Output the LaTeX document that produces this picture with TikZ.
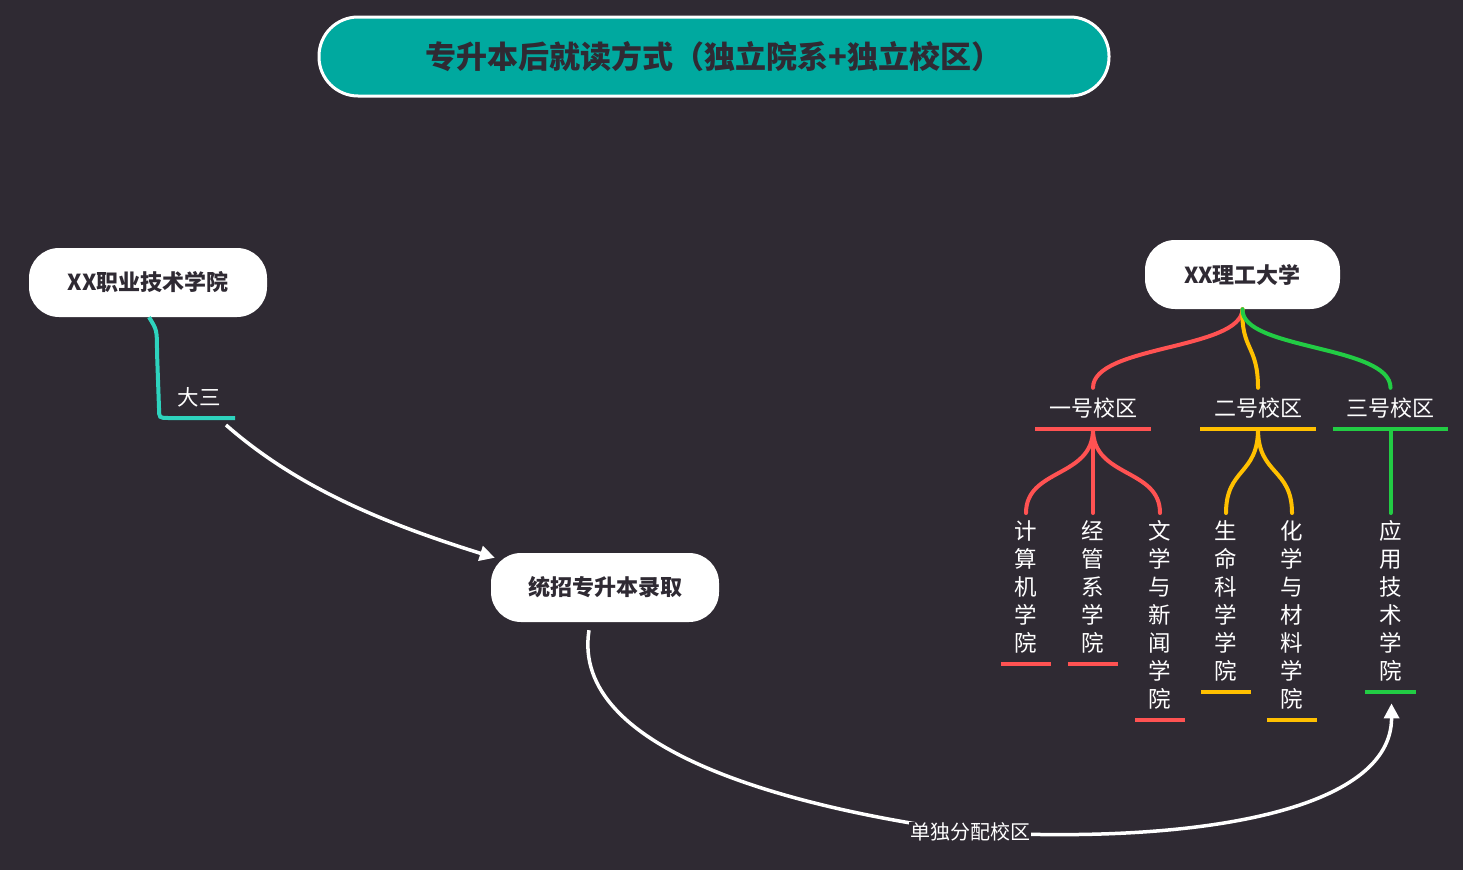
\documentclass[tikz,border=0pt]{standalone}
\usepackage{fontspec}
\newfontfamily\cjk{Noto Sans CJK SC}
\usetikzlibrary{arrows.meta,calc}
\definecolor{bg}{HTML}{2F2A33}
\definecolor{teal1}{HTML}{00A99F}
\definecolor{teal2}{HTML}{2ED3BE}
\definecolor{rd}{HTML}{FF5252}
\definecolor{yl}{HTML}{FFC000}
\definecolor{gn}{HTML}{22CC44}
\definecolor{ink}{HTML}{2F2A33}
\begin{document}
\begin{tikzpicture}[x=1pt,y=-1pt,
  box/.style={fill=white, rounded corners=30pt, inner sep=0pt, minimum height=69pt,
    font=\cjk\bfseries\fontsize{22}{26}\selectfont, text=ink},
  camp/.style={inner sep=0pt, minimum width=115pt, minimum height=41pt, text=white,
    font=\cjk\fontsize{22}{26}\selectfont},
  col/.style={inner sep=0pt, anchor=north, minimum width=50pt, text=white, align=center,
    font=\cjk\fontsize{22.5}{28}\selectfont},
  br/.style={line width=4pt, line cap=round},
  ul/.style={line width=4pt},
  wa/.style={white, line width=3.5pt, -{Triangle[length=15pt,width=15pt]}},
]
\useasboundingbox (0,0) rectangle (1463,870);
\fill[bg] (0,0) rectangle (1463,870);

% title
\node[fill=teal1, draw=white, line width=3pt, rounded corners=39pt, inner sep=0pt,
  minimum width=790pt, minimum height=79pt, text=ink,
  font=\cjk\bfseries\fontsize{31}{35}\selectfont] (title) at (714,56.5)
  {专升本后就读方式（独立院系+独立校区）};

% main nodes
\node[box, minimum width=238pt] (xx) at (148,282.5) {XX职业技术学院};
\node[box, minimum width=195pt] (ut) at (1242.5,274.5) {XX理工大学};
\node[box, minimum width=228pt] (tong) at (605,587.5) {统招专升本录取};

% teal branch and label
\coordinate (dasan) at (235,418);
\draw[teal2, line width=4pt] ($(xx.south)+(1,0)$) .. controls (157,330) .. (157,352)
  -- (159,408) .. controls (159,418) .. (169,418) -- (dasan);
\node[text=white, font=\cjk\fontsize{21.5}{24}\selectfont, inner sep=0pt] (dslab) at (199,397) {大三};

% arrow 1
\draw[wa] ($(dasan)+(-9,7)$) .. controls (300,490) and (390,525) .. ($(tong.north west)+(4,5)$);

% campuses
\node[camp] (c1) at (1093,408.5) {一号校区};
\node[camp] (c2) at (1258,408.5) {二号校区};
\node[camp] (c3) at (1390.5,408.5) {三号校区};
\draw[rd,ul] (c1.south west) -- (c1.south east);
\draw[yl,ul] (c2.south west) -- (c2.south east);
\draw[gn,ul] (c3.south west) -- (c3.south east);

\draw[rd,br] (ut.south) .. controls (1241,350) and (1093,345) .. (c1.north);
\draw[yl,br] (ut.south) .. controls (1241,350) and (1258,345) .. (c2.north);
\draw[gn,br] (ut.south) .. controls (1241,350) and (1390.5,345) .. (c3.north);

% colleges
\node[col, minimum height=155pt] (k1) at (1026,509) {计\\算\\机\\学\\院};
\node[col, minimum height=155pt] (k2) at (1093,509) {经\\管\\系\\学\\院};
\node[col, minimum height=211pt] (k3) at (1160,509) {文\\学\\与\\新\\闻\\学\\院};
\node[col, minimum height=183pt] (k4) at (1226,509) {生\\命\\科\\学\\学\\院};
\node[col, minimum height=211pt] (k5) at (1292,509) {化\\学\\与\\材\\料\\学\\院};
\node[col, minimum height=183pt] (k6) at (1390.5,509) {应\\用\\技\\术\\学\\院};

\draw[rd,ul] (k1.south west) -- (k1.south east);
\draw[rd,ul] (k2.south west) -- (k2.south east);
\draw[rd,ul] (k3.south west) -- (k3.south east);
\draw[yl,ul] (k4.south west) -- (k4.south east);
\draw[yl,ul] (k5.south west) -- (k5.south east);
\draw[gn,ul] (k6.south west) -- (k6.south east);

\draw[rd,br] (c1.south) .. controls (1093,478) and (1026,468) .. ($(k1.north)+(0,4)$);
\draw[rd,br] (c1.south) -- ($(k2.north)+(0,4)$);
\draw[rd,br] (c1.south) .. controls (1093,478) and (1160,468) .. ($(k3.north)+(0,4)$);
\draw[yl,br] (c2.south) .. controls (1258,475) and (1226,468) .. ($(k4.north)+(0,4)$);
\draw[yl,br] (c2.south) .. controls (1258,475) and (1292,468) .. ($(k5.north)+(0,4)$);
\draw[gn,br] (c3.south) -- ($(k6.north)+(0,4)$);

% arrow 2
\draw[wa] ($(tong.south)+(-16,8)$) .. controls (570,750) and (790,808) .. (970,832)
  .. controls (1200,845) and (1392,810) .. ($(k6.south)+(1,11)$);
\node[fill=bg, text=white, inner sep=1pt, font=\cjk\fontsize{20}{22}\selectfont] (fp) at (970,832) {单独分配校区};
\end{tikzpicture}
\end{document}
